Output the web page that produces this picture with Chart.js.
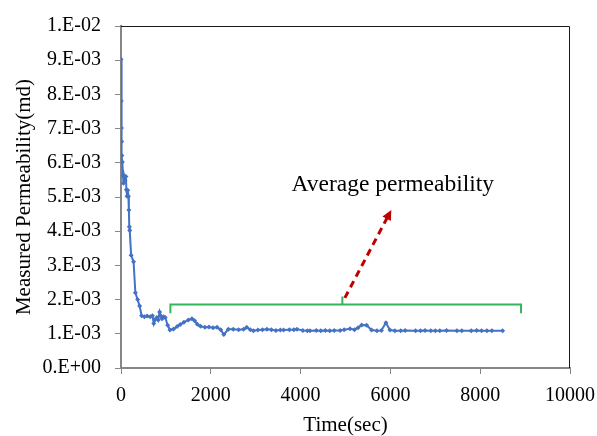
<!DOCTYPE html>
<html>
<head>
<meta charset="utf-8">
<script src="https://cdn.jsdelivr.net/npm/chart.js@4.4.1/dist/chart.umd.min.js"></script>
<style>
  html, body { margin: 0; padding: 0; background: #fff; }
  canvas { display: block; }
</style>
</head>
<body>
<canvas id="permChart" width="597" height="436"></canvas>
<script>
// Measured permeability vs time
var timeSec = [0, 5, 10, 15, 20, 30, 45, 55, 70, 90, 110, 120, 135, 150, 165, 175, 185, 195,
  225, 280, 320, 370, 415, 460, 520, 580, 650, 700, 730, 760, 800, 830, 860, 890, 915, 950, 985,
  1040, 1090, 1170, 1250, 1320, 1400, 1500, 1580, 1640, 1700, 1770, 1870, 1960, 2050, 2140,
  2220, 2290, 2390, 2500, 2620, 2730, 2800, 2880, 2950, 3050, 3150, 3250, 3350, 3450, 3550,
  3620, 3750, 3850, 3920, 4050, 4150, 4210, 4350, 4450, 4550, 4650, 4750, 4880, 4970, 5100,
  5200, 5280, 5360, 5470, 5580, 5700, 5800, 5900, 5990, 6100, 6230, 6330, 6560, 6670, 6770,
  6900, 7000, 7100, 7250, 7480, 7590, 7800, 7920, 8030, 8150, 8260, 8500];
var permMd = [9.03e-3, 7.81e-3, 7.02e-3, 6.62e-3, 6.21e-3, 6.02e-3, 5.62e-3, 5.40e-3, 5.62e-3,
  5.50e-3, 5.60e-3, 5.21e-3, 5.02e-3, 5.20e-3, 5.02e-3, 4.62e-3, 4.13e-3, 4.02e-3,
  3.30e-3, 3.11e-3, 2.20e-3, 2.00e-3, 1.81e-3, 1.53e-3, 1.50e-3, 1.52e-3, 1.50e-3, 1.53e-3,
  1.30e-3, 1.42e-3, 1.48e-3, 1.40e-3, 1.64e-3, 1.52e-3, 1.44e-3, 1.50e-3, 1.48e-3,
  1.25e-3, 1.11e-3, 1.14e-3, 1.21e-3, 1.27e-3, 1.34e-3, 1.40e-3, 1.44e-3, 1.38e-3, 1.28e-3,
  1.22e-3, 1.19e-3, 1.20e-3, 1.18e-3, 1.19e-3,
  1.12e-3, 0.98e-3, 1.13e-3, 1.13e-3, 1.12e-3, 1.13e-3, 1.19e-3, 1.12e-3, 1.09e-3, 1.11e-3,
  1.12e-3, 1.13e-3, 1.12e-3, 1.10e-3, 1.11e-3,
  1.11e-3, 1.12e-3, 1.12e-3, 1.13e-3, 1.10e-3, 1.09e-3, 1.09e-3, 1.10e-3, 1.09e-3, 1.10e-3,
  1.09e-3, 1.10e-3, 1.10e-3, 1.12e-3, 1.15e-3,
  1.12e-3, 1.18e-3, 1.26e-3, 1.25e-3, 1.11e-3, 1.09e-3, 1.10e-3, 1.32e-3, 1.11e-3, 1.09e-3,
  1.09e-3, 1.10e-3, 1.09e-3, 1.09e-3, 1.10e-3,
  1.09e-3, 1.09e-3, 1.09e-3, 1.10e-3, 1.09e-3, 1.09e-3, 1.09e-3, 1.10e-3, 1.09e-3, 1.09e-3,
  1.09e-3, 1.09e-3];

var xTickValues = [0, 2000, 4000, 6000, 8000, 10000];
var xTickLabels = ['0', '2000', '4000', '6000', '8000', '10000'];
var yTickValues = [0, 1e-3, 2e-3, 3e-3, 4e-3, 5e-3, 6e-3, 7e-3, 8e-3, 9e-3, 1e-2];
var yTickLabels = ['0.E+00', '1.E-03', '2.E-03', '3.E-03', '4.E-03', '5.E-03',
  '6.E-03', '7.E-03', '8.E-03', '9.E-03', '1.E-02'];

// annotation: bracket over the averaging window, arrow and its label
var bracketRange = [1100, 8910];
var bracketLevel = 1.86e-3;
var bracketEnds = 1.60e-3;
var bracketMid = [4930, 2.09e-3];
var arrowFrom = [4985, 2.05e-3];
var arrowTo = [6020, 4.62e-3];
var noteText = 'Average permeability';
var notePos = [3800, 5.18e-3];

var serif = "'Liberation Serif', 'Times New Roman', serif";

var points = timeSec.map(function (t, i) { return { x: t, y: permMd[i] }; });

var frame = {
  id: 'frame',
  beforeDatasetsDraw: function (chart) {
    var a = chart.chartArea, ctx = chart.ctx;
    ctx.save();
    ctx.strokeStyle = '#1a1a1a';
    ctx.lineWidth = 1;
    ctx.beginPath();
    ctx.moveTo(a.left, a.top + 0.5);
    ctx.lineTo(a.right - 0.5, a.top + 0.5);
    ctx.lineTo(a.right - 0.5, a.bottom);
    ctx.stroke();
    ctx.restore();
  }
};

var notes = {
  id: 'notes',
  afterDatasetsDraw: function (chart) {
    var ctx = chart.ctx, xs = chart.scales.x, ys = chart.scales.y;
    var px = function (v) { return xs.getPixelForValue(v); };
    var py = function (v) { return ys.getPixelForValue(v); };
    ctx.save();

    // green bracket
    ctx.strokeStyle = '#33b55a';
    ctx.lineWidth = 2;
    ctx.beginPath();
    ctx.moveTo(px(bracketRange[0]), py(bracketEnds));
    ctx.lineTo(px(bracketRange[0]), py(bracketLevel));
    ctx.lineTo(px(bracketRange[1]), py(bracketLevel));
    ctx.lineTo(px(bracketRange[1]), py(bracketEnds));
    ctx.moveTo(px(bracketMid[0]), py(bracketLevel));
    ctx.lineTo(px(bracketMid[0]), py(bracketMid[1]));
    ctx.stroke();

    // dashed red arrow
    var x1 = px(arrowFrom[0]), y1 = py(arrowFrom[1]);
    var x2 = px(arrowTo[0]), y2 = py(arrowTo[1]);
    var ang = Math.atan2(y2 - y1, x2 - x1);
    var head = 11;
    ctx.strokeStyle = '#c00000';
    ctx.fillStyle = '#c00000';
    ctx.lineWidth = 3;
    ctx.setLineDash([7, 5]);
    ctx.beginPath();
    ctx.moveTo(x1, y1);
    ctx.lineTo(x2 - Math.cos(ang) * head * 0.8, y2 - Math.sin(ang) * head * 0.8);
    ctx.stroke();
    ctx.setLineDash([]);
    ctx.beginPath();
    ctx.moveTo(x2, y2);
    ctx.lineTo(x2 - head * Math.cos(ang - 0.45), y2 - head * Math.sin(ang - 0.45));
    ctx.lineTo(x2 - head * Math.cos(ang + 0.45), y2 - head * Math.sin(ang + 0.45));
    ctx.closePath();
    ctx.fill();

    // label
    ctx.fillStyle = '#000';
    ctx.font = '23.5px ' + serif;
    ctx.textAlign = 'left';
    ctx.textBaseline = 'alphabetic';
    ctx.fillText(noteText, px(notePos[0]), py(notePos[1]));
    ctx.restore();
  }
};

new Chart(document.getElementById('permChart'), {
  type: 'line',
  data: {
    datasets: [{
      data: points,
      borderColor: '#4472c4',
      backgroundColor: '#4472c4',
      borderWidth: 2,
      pointStyle: 'rectRot',
      pointRadius: 2.5,
      pointBorderWidth: 0,
      tension: 0,
      fill: false
    }]
  },
  options: {
    responsive: false,
    animation: false,
    layout: { padding: { top: 18, right: 27, left: 0, bottom: 0 } },
    plugins: { legend: { display: false }, tooltip: { enabled: false } },
    scales: {
      x: {
        type: 'linear',
        min: 0,
        max: 10000,
        afterFit: function (s) { s.height = 68; s.paddingLeft = 0; s.paddingRight = 0; },
        afterBuildTicks: function (s) {
          s.ticks = xTickValues.map(function (v) { return { value: v }; });
        },
        grid: { drawOnChartArea: false, drawTicks: true, tickLength: 6, color: '#868686' },
        border: { color: '#868686', width: 2 },
        ticks: {
          color: '#000', padding: 10, maxRotation: 0, font: { family: serif, size: 20 },
          callback: function (v, i) { return xTickLabels[i]; }
        },
        title: { display: true, text: 'Time(sec)', color: '#000', padding: 0,
          font: { family: serif, size: 21, lineHeight: 1 } }
      },
      y: {
        min: 0,
        max: 0.01,
        afterFit: function (s) { s.width = 121; },
        afterBuildTicks: function (s) {
          s.ticks = yTickValues.map(function (v) { return { value: v }; });
        },
        grid: { drawOnChartArea: false, drawTicks: true, tickLength: 6, color: '#868686' },
        border: { color: '#868686', width: 2 },
        ticks: {
          color: '#000', padding: 14, font: { family: serif, size: 20 },
          callback: function (v, i) { return yTickLabels[i]; }
        },
        title: { display: true, text: 'Measured Permeability(md)', color: '#000',
          padding: { top: 12, bottom: 0 }, font: { family: serif, size: 21 } }
      }
    }
  },
  plugins: [frame, notes]
});
</script>
</body>
</html>
